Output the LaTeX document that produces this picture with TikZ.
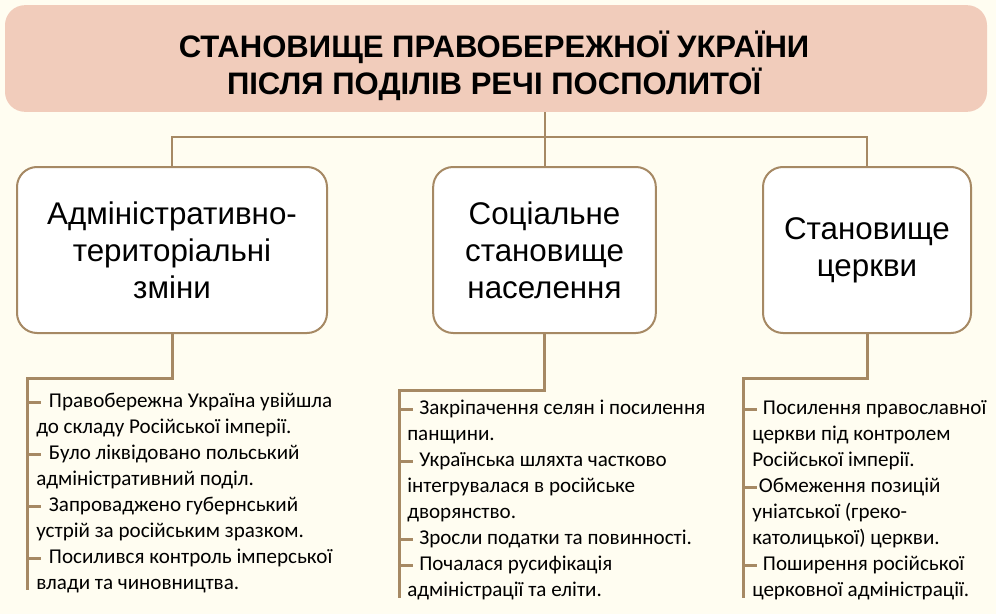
\documentclass[tikz,border=0pt]{standalone}
\usepackage{fontspec}
\setmainfont{Liberation Sans}
\newfontfamily\listfont{Carlito}
\usepackage{tikz}
\usetikzlibrary{positioning,calc}
\definecolor{bgcream}{RGB}{255,253,241}
\definecolor{titlepink}{RGB}{241,204,187}
\definecolor{linebrown}{RGB}{166,137,100}

\begin{document}
\begin{tikzpicture}[x=0.75pt,y=-0.75pt,
    headbox/.style={rectangle, fill=titlepink, rounded corners=15pt,
        minimum width=736.5pt, minimum height=80pt},
    headtext/.style={align=center, font=\bfseries\fontsize{23.3}{27.5}\selectfont},
    topic/.style={rectangle, draw=linebrown, line width=1.5pt, fill=white,
        rounded corners=15pt, minimum height=124.5pt, align=center,
        font=\fontsize{23.5}{27.75}\selectfont},
    facts/.style={anchor=north west, inner sep=0pt, align=left,
        font=\listfont\fontsize{15.8}{19.5}\selectfont},
    link/.style={draw=linebrown, line width=1.5pt},
    bar/.style={draw=linebrown, line width=2.25pt}
]
    % background and frame
    \fill[bgcream] (0,0) rectangle (996,614);
    \useasboundingbox (0,0) rectangle (996,614);

    \node[headbox] (title) at (496,58.5) {};
    \node[headtext] (titletext) at (494,65.5) {СТАНОВИЩЕ ПРАВОБЕРЕЖНОЇ УКРАЇНИ\\ПІСЛЯ ПОДІЛІВ РЕЧІ ПОСПОЛИТОЇ};

    \node[topic, minimum width=232.5pt] (admin) at (172,250) {Адміністративно-\\територіальні\\зміни};
    \node[topic, minimum width=167pt] (social) at (544.5,250) {Соціальне\\становище\\населення};
    \node[topic, minimum width=156pt] (church) at (867,250) {Становище\\церкви};

    % tree connectors
    \draw[link] (social.north |- title.south) -- (social.north);
    \draw[link] (admin.north) -- ++(0,-29) -| (church.north);

    % list bars
    \coordinate (top1) at (27,378);  \coordinate (end1) at (27,590);
    \coordinate (top2) at (399,390); \coordinate (end2) at (399,598);
    \coordinate (top3) at (743,378); \coordinate (end3) at (743,598);
    \draw[bar] (admin.south) |- (top1) -- (end1);
    \draw[bar] (social.south) |- (top2) -- (end2);
    \draw[bar] (church.south) |- (top3) -- (end3);
    \foreach \y in {402,454,506,558} \draw[bar] (27,\y) -- ++(14,0);
    \foreach \y in {409,461,539,565} \draw[bar] (399,\y) -- ++(14,0);
    \foreach \y in {409,487,565} \draw[bar] (743,\y) -- ++(14,0);

    \node[facts] (list1) at (36,389) {\strut\hspace*{9.5pt}Правобережна Україна увійшла\\до складу Російської імперії.\\
        \hspace*{9.5pt}Було ліквідовано польський\\адміністративний поділ.\\
        \hspace*{9.5pt}Запроваджено губернський\\устрій за російським зразком.\\
        \hspace*{9.5pt}Посилився контроль імперської\\влади та чиновництва.};
    \node[facts] (list2) at (407,396) {\strut\hspace*{9pt}Закріпачення селян і посилення\\панщини.\\
        \hspace*{9pt}Українська шляхта частково\\інтегрувалася в російське\\дворянство.\\
        \hspace*{9pt}Зросли податки та повинності.\\
        \hspace*{9pt}Почалася русифікація\\адміністрації та еліти.};
    \node[facts] (list3) at (752,396) {\strut\hspace*{8pt}Посилення православної\\церкви під контролем\\Російської імперії.\\
        \hspace*{5pt}Обмеження позицій\\уніатської (греко-\\католицької) церкви.\\
        \hspace*{8pt}Поширення російської\\церковної адміністрації.};
\end{tikzpicture}
\end{document}
